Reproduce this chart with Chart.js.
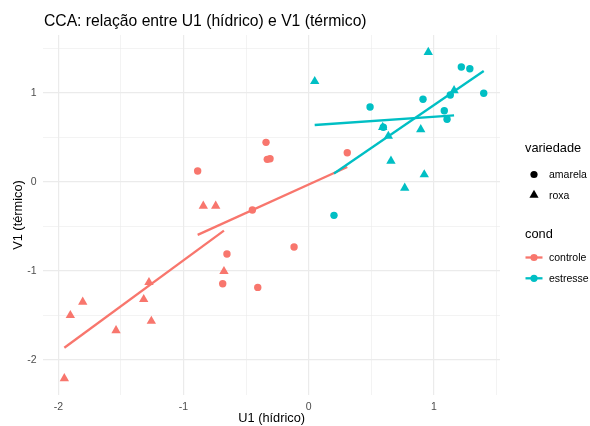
<!DOCTYPE html>
<html>
<head>
<meta charset="utf-8">
<title>CCA U1 x V1</title>
<script src="https://cdn.jsdelivr.net/npm/chart.js@4.4.1/dist/chart.umd.min.js"></script>
<style>
  body { margin: 0; background: #fff; }
  #wrap { position: relative; width: 590px; height: 426px; font-family: "Liberation Sans", Arial, sans-serif; }
  #plot { position: absolute; left: 0; top: 0; }
  .txt { position: absolute; white-space: nowrap; line-height: 1; color: #000; }
  #legend svg { position: absolute; left: 0; top: 0; }
</style>
</head>
<body>
<div id="wrap">
  <canvas id="plot" width="590" height="426"></canvas>
  <div class="txt" id="title" style="left:44px; top:12.7px; font-size:15.7px;">CCA: relação entre U1 (hídrico) e V1 (térmico)</div>
  <div id="legend"></div>
</div>
<script>
// canonical scores (U1, V1) per condition and variety
const ctrlAmarelaX = [-0.887, -0.341, -0.331, -0.309, -0.450, -0.653, -0.687, -0.407, -0.117, 0.308];
const ctrlAmarelaY = [0.123, 0.445, 0.254, 0.261, -0.316, -0.811, -1.145, -1.186, -0.732, 0.328];
const ctrlRoxaX = [-1.952, -1.904, -1.805, -1.539, -1.276, -1.318, -1.257, -0.842, -0.743, -0.677];
const ctrlRoxaY = [-2.210, -1.500, -1.350, -1.670, -1.130, -1.320, -1.565, -0.270, -0.270, -1.005];
const estrAmarelaX = [0.490, 0.913, 1.083, 1.105, 1.131, 1.219, 1.287, 1.398, 0.596, 0.202];
const estrAmarelaY = [0.842, 0.929, 0.801, 0.704, 0.978, 1.292, 1.273, 0.997, 0.614, -0.376];
const estrRoxaX = [0.048, 0.955, 0.591, 0.895, 0.636, 0.657, 0.923, 0.767, 1.161];
const estrRoxaY = [1.130, 1.458, 0.615, 0.590, 0.515, 0.236, 0.083, -0.068, 1.028];

// linear fits (lm) per group, endpoints at the group's x range
const fitCtrlAmarelaX = [-0.887, 0.308];
const fitCtrlAmarelaY = [-0.596, 0.167];
const fitCtrlRoxaX = [-1.952, -0.677];
const fitCtrlRoxaY = [-1.865, -0.547];
const fitEstrAmarelaX = [0.202, 1.398];
const fitEstrAmarelaY = [0.095, 1.247];
const fitEstrRoxaX = [0.048, 1.161];
const fitEstrRoxaY = [0.640, 0.749];

const condLabels = ["controle", "estresse"];
const condColors = ["#F8766D", "#00BFC4"];
const shapeLabels = ["amarela", "roxa"];
const shapeStyles = ["circle", "triangle"];

const xMin = -2.12, xMax = 1.528;
const yMin = -2.396, yMax = 1.652;

const FONT = "'Liberation Sans', Arial, sans-serif";

function pts(xs, ys) {
  return xs.map((x, i) => ({ x: x, y: ys[i] }));
}

function pointSet(xs, ys, cond, shape) {
  return {
    data: pts(xs, ys),
    pointStyle: shapeStyles[shape],
    pointRadius: shape === 0 ? 3.7 : 5.4,
    backgroundColor: condColors[cond],
    borderWidth: 0,
    showLine: false,
    order: 2,
  };
}

function fitSet(xs, ys, cond) {
  return {
    data: pts(xs, ys),
    showLine: true,
    borderColor: condColors[cond],
    borderWidth: 2.3,
    pointRadius: 0,
    fill: false,
    order: 1,
  };
}

const isMajor = (v) => Math.abs(v - Math.round(v)) < 1e-6;

const gridOpts = {
  color: "#EBEBEB",
  lineWidth: (c) => (c.tick && isMajor(c.tick.value) ? 1.2 : 0.6),
  drawTicks: false,
};

const ctx = document.getElementById("plot").getContext("2d");
new Chart(ctx, {
  type: "scatter",
  data: {
    datasets: [
      fitSet(fitEstrRoxaX, fitEstrRoxaY, 1),
      fitSet(fitEstrAmarelaX, fitEstrAmarelaY, 1),
      fitSet(fitCtrlRoxaX, fitCtrlRoxaY, 0),
      fitSet(fitCtrlAmarelaX, fitCtrlAmarelaY, 0),
      pointSet(estrRoxaX, estrRoxaY, 1, 1),
      pointSet(estrAmarelaX, estrAmarelaY, 1, 0),
      pointSet(ctrlRoxaX, ctrlRoxaY, 0, 1),
      pointSet(ctrlAmarelaX, ctrlAmarelaY, 0, 0),
    ],
  },
  options: {
    responsive: false,
    animation: false,
    devicePixelRatio: 1,
    layout: { padding: { top: 35, right: 90, left: 0, bottom: 0 } },
    plugins: {
      legend: { display: false },
      tooltip: { enabled: false },
    },
    scales: {
      x: {
        type: "linear",
        min: xMin,
        max: xMax,
        border: { display: false },
        grid: gridOpts,
        ticks: {
          stepSize: 0.5,
          includeBounds: false,
          maxRotation: 0,
          autoSkip: false,
          padding: 5.5,
          color: "#4D4D4D",
          font: { family: FONT, size: 10.5 },
          callback: (v) => (isMajor(v) ? String(Math.round(v)) : ""),
        },
        title: {
          display: true,
          text: "U1 (hídrico)",
          color: "#000",
          font: { family: FONT, size: 12.8 },
          padding: { top: 0, bottom: 0 },
        },
        afterFit: (s) => { s.height = 31; },
      },
      y: {
        type: "linear",
        min: yMin,
        max: yMax,
        border: { display: false },
        grid: gridOpts,
        ticks: {
          stepSize: 0.5,
          includeBounds: false,
          autoSkip: false,
          padding: 6.6,
          color: "#4D4D4D",
          font: { family: FONT, size: 10.5 },
          callback: (v) => (isMajor(v) ? String(Math.round(v)) : ""),
        },
        title: {
          display: true,
          text: "V1 (térmico)",
          color: "#000",
          font: { family: FONT, size: 12.8 },
          padding: { top: 11, bottom: 0 },
        },
        afterFit: (s) => { s.width = 43.3; },
      },
    },
  },
});

// ggplot-style legend: shape key (variedade) and colour key (cond)
function buildLegend() {
  const box = document.getElementById("legend");
  const ns = "http://www.w3.org/2000/svg";
  const svg = document.createElementNS(ns, "svg");
  svg.setAttribute("width", "590");
  svg.setAttribute("height", "426");
  box.appendChild(svg);

  const addText = (str, left, baseline, size) => {
    const d = document.createElement("div");
    d.className = "txt";
    d.textContent = str;
    d.style.left = left + "px";
    d.style.top = (baseline - 0.8465 * size) + "px";
    d.style.fontSize = size + "px";
    box.appendChild(d);
  };

  const keyX = 534;
  const labelX = 549;

  addText("variedade", 525, 153, 12.8);
  const shapeY = [174.5, 195];
  shapeLabels.forEach((lab, i) => {
    const cy = shapeY[i];
    let el;
    if (shapeStyles[i] === "circle") {
      el = document.createElementNS(ns, "circle");
      el.setAttribute("cx", keyX);
      el.setAttribute("cy", cy);
      el.setAttribute("r", 3.6);
    } else {
      const r = 5.3;
      el = document.createElementNS(ns, "polygon");
      el.setAttribute("points",
        `${keyX},${cy - r} ${keyX + r * 0.866},${cy + r / 2} ${keyX - r * 0.866},${cy + r / 2}`);
    }
    el.setAttribute("fill", "#000");
    svg.appendChild(el);
    addText(lab, labelX, cy + 3.6, 10.5);
  });

  addText("cond", 525, 239.3, 12.8);
  const condY = [257.5, 278.3];
  condLabels.forEach((lab, i) => {
    const cy = condY[i];
    const ln = document.createElementNS(ns, "line");
    ln.setAttribute("x1", 525.5);
    ln.setAttribute("x2", 542.5);
    ln.setAttribute("y1", cy);
    ln.setAttribute("y2", cy);
    ln.setAttribute("stroke", condColors[i]);
    ln.setAttribute("stroke-width", 2.3);
    svg.appendChild(ln);
    const c = document.createElementNS(ns, "circle");
    c.setAttribute("cx", keyX);
    c.setAttribute("cy", cy);
    c.setAttribute("r", 3.6);
    c.setAttribute("fill", condColors[i]);
    svg.appendChild(c);
    addText(lab, labelX, cy + 3.6, 10.5);
  });
}
buildLegend();
</script>
</body>
</html>
